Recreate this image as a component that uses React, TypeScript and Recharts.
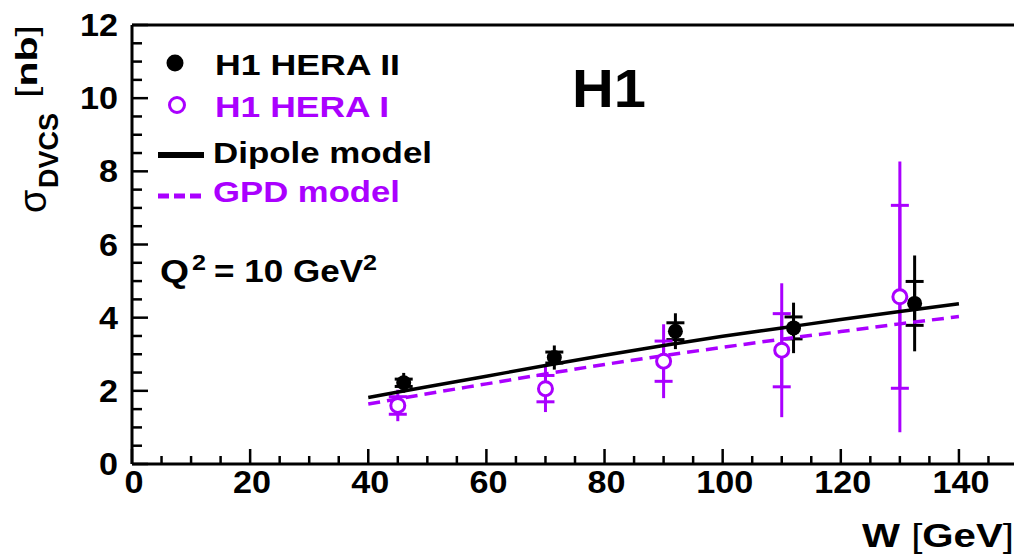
import React from "react";
import {
  ComposedChart,
  XAxis,
  YAxis,
  Line,
  Scatter,
  ErrorBar,
  ReferenceLine,
  Customized,
} from "recharts";

const FONT = '"Liberation Sans", Arial, Helvetica, sans-serif';
const PURPLE = "#aa00ff";

// H1 HERA II (filled black)
const heraIIW = [46, 71.5, 92, 112, 132.5];
const heraIISigma = [2.22, 2.91, 3.63, 3.72, 4.39];
const heraIIStat = [0.1, 0.15, 0.23, 0.3, 0.6];
const heraIITot = [0.27, 0.33, 0.49, 0.69, 1.31];

// H1 HERA I (open purple)
const heraIW = [45, 70, 90, 110, 130];
const heraISigma = [1.6, 2.06, 2.81, 3.11, 4.57];
const heraIStat = [0.24, 0.36, 0.55, 1.0, 2.5];
const heraITot = [0.43, 0.64, 1.01, 1.83, 3.7];

// model curves
const modelW = [40, 50, 60, 70, 80, 90, 100, 110, 120, 130, 140];
const dipoleModel = [1.82, 2.11, 2.4, 2.69, 2.97, 3.24, 3.49, 3.72, 3.95, 4.17, 4.38];
const gpdModel = [1.64, 1.92, 2.19, 2.46, 2.72, 2.96, 3.19, 3.41, 3.62, 3.83, 4.03];

// axis ticks
const xTicks = [0, 5, 10, 15, 20, 25, 30, 35, 40, 45, 50, 55, 60, 65, 70, 75, 80, 85, 90, 95, 100, 105, 110, 115, 120, 125, 130, 135, 140, 145, 150];
const yTicks = [0, 0.5, 1, 1.5, 2, 2.5, 3, 3.5, 4, 4.5, 5, 5.5, 6, 6.5, 7, 7.5, 8, 8.5, 9, 9.5, 10, 10.5, 11, 11.5, 12];

const heraII = heraIIW.map((w, i) => ({ w, s: heraIISigma[i], stat: heraIIStat[i], tot: heraIITot[i] }));
const heraI = heraIW.map((w, i) => ({ w, s: heraISigma[i], stat: heraIStat[i], tot: heraITot[i] }));
const dipoleData = modelW.map((w, i) => ({ w, v: dipoleModel[i] }));
const gpdData = modelW.map((w, i) => ({ w, v: gpdModel[i] }));

function XTick(props: any) {
  const { x, y, payload } = props;
  const v = payload.value;
  const major = v % 20 === 0;
  return (
    <g>
      <line x1={x} y1={y} x2={x} y2={y - (major ? 15 : 8)} stroke="#000" strokeWidth={2.5} />
      {major && (
        <text
          x={x + 2}
          y={y + 29}
          textAnchor="middle"
          fontFamily={FONT}
          fontWeight="bold"
          fontSize={31}
          textLength={String(v).length * 19}
          lengthAdjust="spacingAndGlyphs"
          fill="#000"
        >
          {v}
        </text>
      )}
    </g>
  );
}

function YTick(props: any) {
  const { x, y, payload } = props;
  const v = payload.value;
  const major = v % 2 === 0;
  return (
    <g>
      <line x1={x} y1={y} x2={x + (major ? 16 : 10)} y2={y} stroke="#000" strokeWidth={2.5} />
      {major && (
        <text
          x={x - 14}
          y={y + 11}
          textAnchor="end"
          fontFamily={FONT}
          fontWeight="bold"
          fontSize={31}
          textLength={String(v).length * 19}
          lengthAdjust="spacingAndGlyphs"
          fill="#000"
        >
          {v}
        </text>
      )}
    </g>
  );
}

const blackDot = (p: any) => <circle cx={p.cx} cy={p.cy} r={7.5} fill="#000" />;
const openDot = (p: any) => (
  <circle cx={p.cx} cy={p.cy} r={7} fill="#fff" stroke={PURPLE} strokeWidth={3} />
);

function Annotations() {
  const t = { fontFamily: FONT, fontWeight: "bold" as const, lengthAdjust: "spacingAndGlyphs" };
  return (
    <g>
      {/* legend */}
      <circle cx={175} cy={63} r={8.5} fill="#000" />
      <text x={215} y={75} fontSize={30} textLength={185} fill="#000" {...t}>
        H1 HERA II
      </text>
      <circle cx={177} cy={105} r={7.5} fill="#fff" stroke={PURPLE} strokeWidth={3} />
      <text x={215} y={117} fontSize={30} textLength={174} fill={PURPLE} {...t}>
        H1 HERA I
      </text>
      <line x1={158} x2={204} y1={155} y2={155} stroke="#000" strokeWidth={6} />
      <text x={213} y={163} fontSize={30} textLength={219} fill="#000" {...t}>
        Dipole model
      </text>
      <line x1={158} x2={202} y1={196} y2={196} stroke={PURPLE} strokeWidth={5} strokeDasharray="11 5" />
      <text x={213} y={202} fontSize={30} textLength={187} fill={PURPLE} {...t}>
        GPD model
      </text>

      {/* experiment label */}
      <text x={572} y={107} fontSize={53} textLength={74} fill="#000" {...t}>
        H1
      </text>

      {/* Q^2 */}
      <text x={160} y={282} fontSize={32} textLength={29} fill="#000" {...t}>
        Q
      </text>
      <text x={192} y={270} fontSize={22} textLength={14} fill="#000" {...t}>
        2
      </text>
      <text x={214} y={282} fontSize={32} textLength={149} fill="#000" {...t}>
        = 10 GeV
      </text>
      <text x={363} y={270} fontSize={22} textLength={14} fill="#000" {...t}>
        2
      </text>

      {/* x axis title */}
      <text x={862} y={547} fontSize={34} textLength={152} fill="#000" {...t}>
        W <tspan fontWeight="normal">[</tspan>GeV<tspan fontWeight="normal">]</tspan>
      </text>

      {/* y axis title */}
      <text transform="translate(46,213) rotate(-90)" fontSize={38} fill="#000" fontFamily={FONT}>
        σ
      </text>
      <text transform="translate(58,188) rotate(-90)" fontSize={27} textLength={75} fill="#000" {...t}>
        DVCS
      </text>
      <text transform="translate(37,98) rotate(-90)" fontSize={30} textLength={73} fill="#000" {...t}>
        <tspan fontWeight="normal">[</tspan>nb<tspan fontWeight="normal">]</tspan>
      </text>
    </g>
  );
}

export default function App() {
  return (
    <div
      style={{
        position: "absolute",
        left: 0,
        top: 0,
        width: 1014,
        height: 557,
        overflow: "hidden",
        background: "#fff",
      }}
    >
      <ComposedChart width={1030} height={557} margin={{ top: 25, right: 12, bottom: 33, left: 72 }}>
        <XAxis
          dataKey="w"
          type="number"
          domain={[0, 150]}
          ticks={xTicks}
          interval={0}
          tickSize={0}
          tickMargin={0}
          tickLine={false}
          tick={<XTick />}
          axisLine={{ stroke: "#000", strokeWidth: 3 }}
          height={60}
        />
        <YAxis
          type="number"
          domain={[0, 12]}
          ticks={yTicks}
          interval={0}
          tickSize={0}
          tickMargin={0}
          tickLine={false}
          tick={<YTick />}
          axisLine={{ stroke: "#000", strokeWidth: 3 }}
          width={60}
          allowDataOverflow
        />
        <ReferenceLine y={12} stroke="#000" strokeWidth={3} />
        <ReferenceLine x={150} stroke="#000" strokeWidth={3} />

        <Scatter data={heraII} dataKey="s" name="H1 HERA II" shape={blackDot} isAnimationActive={false}>
          <ErrorBar dataKey="tot" direction="y" width={0} stroke="#000" strokeWidth={3} />
          <ErrorBar dataKey="stat" direction="y" width={9} stroke="#000" strokeWidth={3} />
        </Scatter>
        <Scatter data={heraI} dataKey="s" name="H1 HERA I" shape={openDot} isAnimationActive={false}>
          <ErrorBar dataKey="tot" direction="y" width={0} stroke={PURPLE} strokeWidth={3} />
          <ErrorBar dataKey="stat" direction="y" width={9} stroke={PURPLE} strokeWidth={3} />
        </Scatter>

        <Line
          data={gpdData}
          dataKey="v"
          name="GPD model"
          type="monotone"
          stroke={PURPLE}
          strokeWidth={3.5}
          strokeDasharray="12 7"
          dot={false}
          isAnimationActive={false}
        />
        <Line
          data={dipoleData}
          dataKey="v"
          name="Dipole model"
          type="monotone"
          stroke="#000"
          strokeWidth={3.5}
          dot={false}
          isAnimationActive={false}
        />

        <Customized component={Annotations} />
      </ComposedChart>
    </div>
  );
}
